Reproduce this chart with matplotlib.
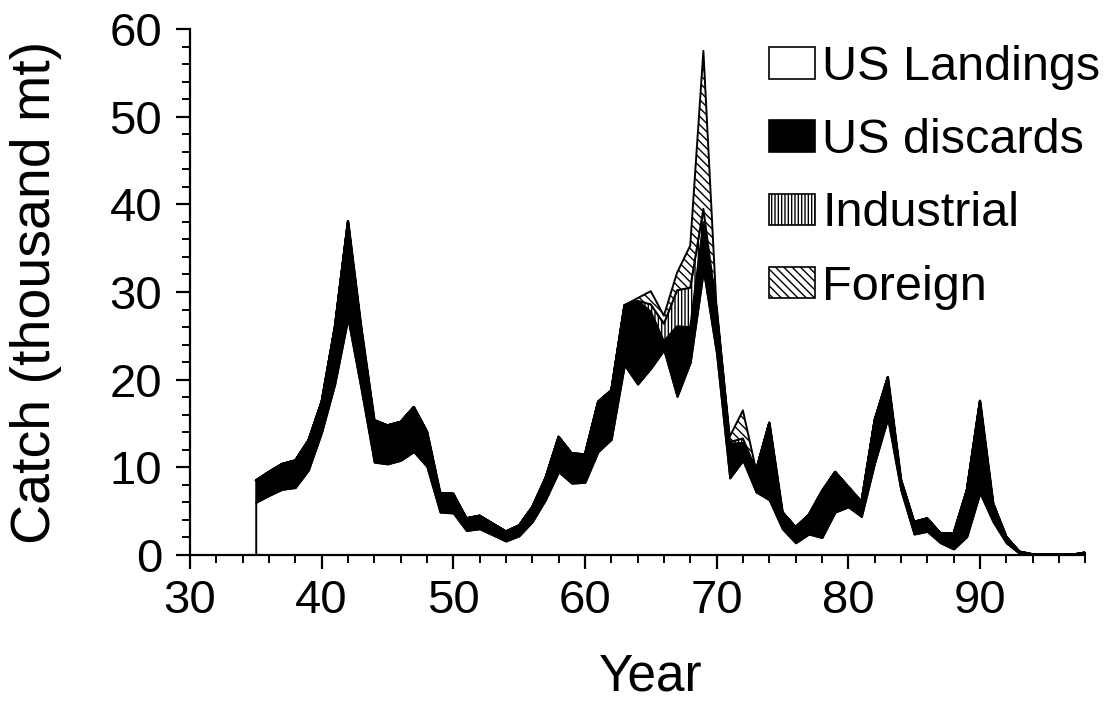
import matplotlib
matplotlib.use("Agg")
import matplotlib.pyplot as plt
from matplotlib.patches import Patch
from matplotlib.ticker import MultipleLocator

years = list(range(35, 99))

us_landings = [
    6.0, 6.8, 7.5, 7.7, 9.7, 14.0, 19.5, 27.0, 19.0, 10.6,   # 35-44
    10.4, 10.8, 11.8, 10.1, 4.9, 4.8, 2.8, 3.0, 2.3, 1.6,    # 45-54
    2.2, 3.8, 6.3, 9.5, 8.2, 8.3, 11.8, 13.2, 21.7, 19.5,    # 55-64
    21.3, 23.4, 18.1, 22.0, 32.5, 23.0, 8.8, 10.8, 7.2, 6.3, # 65-74
    3.0, 1.4, 2.4, 2.0, 4.9, 5.5, 4.4, 10.5, 15.6, 7.4,      # 75-84
    2.4, 2.7, 1.4, 0.7, 2.1, 7.1, 3.8, 1.4, 0.2, 0.05,       # 85-94
    0.05, 0.05, 0.03, 0.2,                                   # 95-98
]
us_discards = [
    2.5, 2.7, 2.9, 3.1, 3.4, 3.5, 6.5, 11.1, 7.0, 4.8,
    4.4, 4.4, 5.1, 4.0, 2.2, 2.2, 1.4, 1.5, 1.3, 1.1,
    1.2, 1.7, 2.5, 4.0, 3.4, 3.2, 5.7, 5.6, 6.8, 9.5,
    6.5, 1.0, 8.0, 4.0, 5.5, 5.0, 3.9, 2.0, 2.5, 8.8,
    1.9, 1.8, 2.2, 5.3, 4.6, 2.3, 1.7, 4.9, 4.7, 1.2,
    1.4, 1.5, 1.1, 1.8, 5.3, 10.5, 2.1, 0.7, 0.2, 0.05,
    0.03, 0.03, 0.02, 0.1,
]
industrial = [0.0] * 30 + [0.8, 2.0, 4.1, 4.5, 1.5, 0.0, 0.2, 0.5] + [0.0] * 26
foreign = [0.0] * 29 + [0.3, 1.5, 0.9, 2.0, 4.8, 18.0, 0.0, 0.6, 3.2] + [0.0] * 26

series_labels = ["US Landings", "US discards", "Industrial", "Foreign"]
face_colors = ["white", "black", "white", "white"]
hatches = [None, None, "|||||", "\\\\\\\\"]

plt.rcParams["font.family"] = ["Liberation Sans", "DejaVu Sans"]
plt.rcParams["hatch.linewidth"] = 1.0

fig = plt.figure(figsize=(11.04, 7.04), dpi=100)
ax = fig.add_axes([0.172, 0.2116, 0.811, 0.7472])

polys = ax.stackplot(
    years, us_landings, us_discards, industrial, foreign,
    colors=face_colors, edgecolor="black", linewidth=1.4,
)
for poly, h in zip(polys, hatches):
    if h:
        poly.set_hatch(h)

ax.set_xlim(30, 98)
ax.set_ylim(0, 60)
ax.set_xticks(range(30, 91, 10))
ax.xaxis.set_minor_locator(MultipleLocator(2))
ax.set_yticks(range(0, 61, 10))
ax.yaxis.set_minor_locator(MultipleLocator(2))

for side in ("top", "right"):
    ax.spines[side].set_visible(False)
for side in ("left", "bottom"):
    ax.spines[side].set_linewidth(1.6)

ax.tick_params(which="major", length=10, width=1.6, labelsize=34)
ax.tick_params(which="minor", length=6, width=1.4)
ax.tick_params(axis="x", which="major", pad=7)
ax.tick_params(axis="y", which="major", pad=10)

ax.set_xlabel("Year", fontsize=37)
ax.set_ylabel("Catch (thousand mt)", fontsize=40)
ax.xaxis.set_label_coords(0.515, -0.186)
ax.yaxis.set_label_coords(-0.143, 0.5)

handles = [
    Patch(facecolor=c, edgecolor="black", hatch=h, linewidth=1.2)
    for c, h in zip(face_colors, hatches)
]
fig.legend(
    handles, series_labels, loc="upper left",
    bbox_to_anchor=(0.697, 0.936), frameon=False, fontsize=35,
    handlelength=0.93, handleheight=0.62, handletextpad=0.16,
    labelspacing=0.58, borderpad=0, borderaxespad=0,
)

fig.savefig("out.png", dpi=100)
